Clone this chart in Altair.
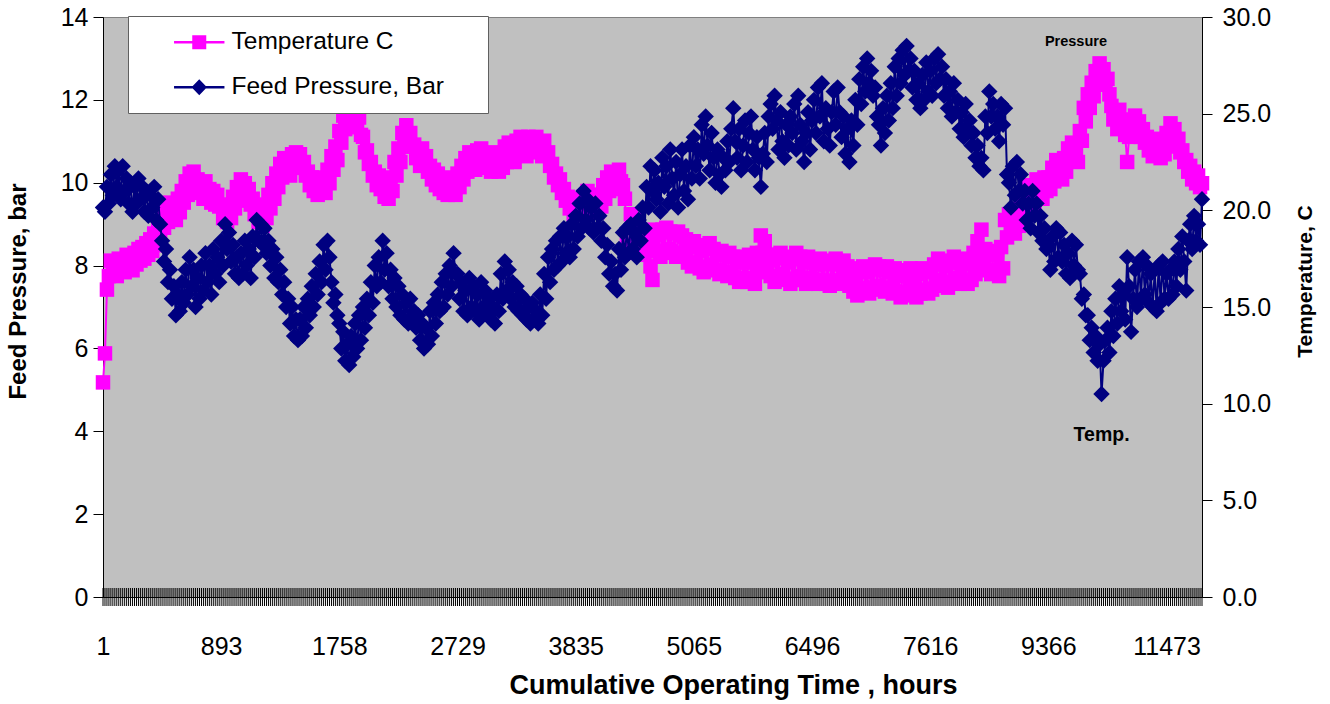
import json
import altair as alt
import pandas as pd

# Category-axis labels (cumulative hours) shown every LABEL_STEP rows
tick_labels = ["1", "893", "1758", "2729", "3835", "5065", "6496", "7616", "9366", "11473"]
LABEL_STEP = 60

# Feed pressure, bar (one value per logged row)
pressure = [
    9.4, 9.3, 9.9, 9.5, 10.2, 9.7, 10.4, 9.9, 10.3, 9.6, 10.4, 9.8, 10.1, 9.5, 10.0, 9.3, 9.9, 9.5, 10.1, 9.6,
    9.9, 9.3, 9.8, 9.2, 9.7, 9.4, 9.9, 9.1, 9.6, 9.0, 8.6, 8.1, 8.4, 7.6, 7.9, 7.2, 7.5, 6.8, 7.3, 6.9,
    7.6, 7.1, 7.9, 7.3, 8.2, 7.5, 7.9, 7.0, 7.7, 7.2, 8.0, 7.4, 8.3, 7.6, 8.0, 7.3, 8.4, 7.8, 8.2, 7.6,
    8.6, 8.0, 9.0, 8.4, 8.8, 8.1, 8.5, 7.8, 8.2, 7.7, 8.3, 7.8, 8.6, 8.0, 8.4, 7.7, 8.7, 8.2, 9.1, 8.6,
    9.0, 8.5, 8.9, 8.3, 8.6, 8.0, 8.4, 7.7, 8.2, 7.6, 7.9, 7.3, 7.6, 7.0, 7.2, 6.6, 7.0, 6.3, 6.7, 6.2,
    6.7, 6.3, 7.0, 6.5, 7.2, 6.8, 7.5, 7.0, 7.8, 7.3, 8.1, 7.6, 8.5, 7.9, 8.6, 8.2, 7.6, 7.1, 7.3, 6.8,
    6.6, 6.0, 6.4, 5.7, 6.1, 5.6, 6.3, 5.8, 6.6, 6.0, 6.8, 6.2, 7.0, 6.5, 7.2, 6.8, 7.6, 7.1, 8.0, 7.5,
    8.2, 7.6, 8.6, 7.9, 8.3, 7.5, 7.9, 7.2, 7.7, 7.0, 7.5, 6.8, 7.3, 6.7, 7.1, 6.6, 7.2, 6.7, 6.9, 6.5,
    6.8, 6.2, 6.6, 6.0, 6.5, 6.1, 6.9, 6.3, 7.1, 6.6, 7.3, 6.9, 7.6, 7.0, 7.8, 7.3, 8.0, 7.5, 8.3, 7.8,
    7.8, 7.2, 7.6, 6.9, 7.4, 6.8, 7.7, 7.0, 7.5, 6.9, 7.3, 6.7, 7.6, 7.0, 7.4, 6.8, 7.2, 6.7, 7.0, 6.6,
    7.3, 6.9, 7.8, 7.2, 8.1, 7.4, 7.9, 7.2, 7.6, 7.0, 7.5, 6.9, 7.3, 6.8, 7.2, 6.7, 7.0, 6.6, 7.1, 6.7,
    6.9, 6.6, 7.3, 6.8, 7.8, 7.2, 8.2, 7.6, 8.4, 7.9, 8.6, 8.0, 8.7, 8.1, 8.9, 8.3, 8.7, 8.2, 9.0, 8.4,
    9.2, 8.7, 9.5, 8.9, 9.8, 9.1, 9.6, 8.9, 9.4, 8.8, 9.5, 8.9, 9.2, 8.6, 8.9, 8.2, 8.5, 7.8, 8.1, 7.5,
    7.8, 7.4, 8.4, 7.9, 8.8, 8.2, 8.9, 8.3, 9.0, 8.4, 8.8, 8.2, 9.1, 8.6, 9.4, 8.9, 9.9, 9.4, 10.4, 9.8,
    10.3, 9.6, 10.0, 9.3, 10.6, 9.9, 10.4, 9.5, 10.8, 10.1, 9.7, 10.5, 9.4, 10.2, 10.8, 9.8, 10.4, 9.6, 10.9, 10.1,
    11.1, 10.4, 10.8, 10.1, 11.4, 10.7, 11.6, 10.9, 10.3, 11.2, 10.6, 10.0, 10.8, 10.2, 9.9, 10.6, 10.3, 11.0, 10.5, 11.3,
    11.8, 11.0, 10.6, 11.3, 10.3, 10.9, 11.5, 10.5, 11.2, 11.6, 10.8, 10.3, 11.1, 10.6, 9.9, 10.7, 11.2, 10.5, 11.6, 11.9,
    11.3, 12.1, 11.5, 10.8, 11.7, 11.0, 10.6, 11.4, 10.9, 11.6, 11.2, 11.9, 10.8, 12.1, 11.4, 11.0, 10.5, 11.2, 11.7, 10.8,
    11.5, 12.0, 11.2, 12.3, 11.6, 12.4, 11.0, 11.8, 11.3, 10.9, 11.7, 12.2, 11.4, 12.3, 11.7, 11.1, 11.6, 10.7, 11.3, 10.5,
    11.5, 10.9, 12.0, 11.4, 12.5, 11.9, 12.8, 12.2, 13.0, 12.4, 12.7, 12.1, 12.3, 11.6, 11.4, 10.9, 11.8, 11.2, 12.1, 11.5,
    12.4, 11.8, 12.8, 12.1, 13.0, 12.4, 13.2, 12.6, 13.3, 12.7, 13.0, 12.3, 12.7, 12.0, 12.4, 11.8, 12.6, 12.0, 12.9, 12.2,
    12.7, 12.1, 13.0, 12.4, 13.1, 12.5, 12.8, 12.1, 12.5, 11.8, 12.2, 11.6, 12.4, 11.7, 12.0, 11.3, 11.7, 11.1, 11.9, 11.3,
    11.5, 10.9, 11.2, 10.6, 10.9, 10.4, 10.6, 10.3, 11.6, 11.2, 12.2, 11.6, 11.9, 11.3, 11.6, 11.0, 11.9, 11.4, 11.8, 10.2,
    10.0, 9.4, 10.4, 9.7, 10.5, 9.8, 10.2, 9.5, 9.8, 9.1, 9.5, 8.9, 9.8, 9.2, 9.5, 8.8, 9.2, 8.6, 8.9, 8.4,
    8.5, 7.9, 8.7, 8.1, 8.9, 8.2, 8.8, 8.1, 8.5, 7.8, 8.3, 7.7, 8.6, 8.0, 8.5, 7.9, 7.8, 7.2, 7.3, 6.8,
    6.8, 6.2, 6.5, 5.9, 6.3, 5.7, 6.1, 4.9, 5.7, 6.2, 6.5, 5.9, 6.9, 6.3, 7.2, 6.6, 7.5, 6.9, 7.3, 6.7,
    8.2, 7.5, 6.4, 7.2, 7.9, 7.0, 8.1, 7.2, 8.2, 7.3, 8.0, 7.1, 7.8, 7.0, 7.9, 6.9, 8.0, 7.1, 8.1, 7.2,
    7.8, 7.2, 7.9, 7.3, 8.1, 7.5, 8.4, 7.9, 8.7, 8.1, 7.4, 8.6, 9.0, 8.4, 9.2, 8.6, 9.0, 8.5, 9.6,
]

# Feed temperature, C
temperature = [
    11.1, 12.6, 15.9, 16.6, 17.4, 16.7, 17.2, 16.6, 17.5, 16.9, 17.3, 16.8, 17.7, 17.1, 17.5, 16.9, 17.8, 17.2, 18.0, 17.4,
    18.1, 17.5, 18.3, 17.7, 18.5, 17.9, 18.8, 18.2, 19.3, 18.6, 19.8, 19.1, 20.1, 19.4, 20.4, 19.7, 20.2, 19.5, 20.6, 19.9,
    21.0, 20.4, 21.5, 20.8, 21.9, 21.2, 22.0, 21.3, 21.6, 20.9, 21.3, 20.6, 21.5, 20.8, 21.1, 20.4, 21.0, 20.3, 20.8, 20.2,
    20.3, 19.6, 20.0, 19.4, 20.2, 19.6, 20.7, 20.1, 21.2, 20.5, 21.6, 20.9, 21.4, 20.7, 21.1, 20.3, 20.6, 19.8, 20.0, 19.4,
    19.6, 19.2, 20.3, 19.6, 20.8, 20.1, 21.4, 20.6, 21.9, 21.2, 22.4, 21.7, 22.7, 22.0, 22.4, 21.8, 22.9, 22.2, 23.0, 22.4,
    22.9, 22.2, 22.5, 21.8, 22.0, 21.3, 21.7, 21.0, 21.4, 20.8, 21.7, 21.0, 21.5, 20.9, 22.1, 21.4, 22.8, 22.1, 23.3, 22.6,
    24.1, 23.5, 24.9, 24.2, 25.5, 24.7, 25.3, 24.5, 25.1, 24.3, 24.8, 23.9, 23.8, 23.0, 23.1, 22.4, 22.5, 21.8, 22.0, 21.3,
    21.8, 21.1, 21.3, 20.7, 21.0, 20.6, 21.7, 21.0, 22.5, 21.8, 23.2, 22.5, 24.0, 23.3, 24.4, 23.7, 24.0, 23.3, 23.4, 22.7,
    23.0, 22.3, 23.2, 22.5, 22.8, 22.0, 22.3, 21.6, 22.1, 21.3, 21.9, 21.1, 21.6, 20.9, 21.5, 20.8, 21.7, 21.0, 21.4, 20.8,
    21.9, 21.2, 22.3, 21.6, 22.7, 22.0, 23.0, 22.3, 22.8, 22.1, 23.1, 22.4, 23.2, 22.5, 22.9, 22.2, 22.7, 22.0, 23.0, 22.3,
    22.7, 22.0, 22.9, 22.2, 23.3, 22.5, 23.5, 22.8, 23.2, 22.5, 23.6, 22.9, 23.8, 23.1, 23.5, 22.8, 23.8, 23.1, 23.7, 23.0,
    23.8, 23.1, 23.5, 22.8, 23.6, 22.9, 23.0, 22.3, 22.4, 21.7, 21.9, 21.3, 21.6, 20.9, 21.1, 20.5, 20.7, 20.1, 20.3, 19.8,
    20.6, 20.0, 20.3, 19.8, 20.7, 20.1, 21.0, 20.3, 20.8, 20.1, 20.5, 19.9, 20.8, 20.2, 21.3, 20.6, 21.7, 21.0, 22.0, 21.3,
    21.8, 21.1, 22.1, 21.5, 21.3, 20.6, 18.2, 17.8, 19.8, 19.1, 19.5, 18.7, 19.0, 18.3, 18.4, 17.7, 18.7, 18.0, 17.1, 16.4,
    19.0, 17.9, 18.7, 17.6, 19.0, 17.9, 19.1, 18.0, 18.9, 17.8, 18.8, 17.6, 18.9, 17.8, 18.7, 17.6, 18.5, 17.3, 18.2, 17.1,
    18.4, 17.3, 18.1, 17.0, 17.9, 16.8, 18.2, 17.0, 18.3, 17.2, 18.0, 16.9, 17.8, 16.7, 17.9, 16.8, 17.7, 16.6, 17.8, 16.7,
    17.6, 16.5, 17.3, 16.3, 17.6, 16.4, 17.4, 16.3, 17.7, 16.5, 17.3, 16.2, 17.8, 16.8, 18.7, 17.8, 18.4, 17.2, 17.7, 16.6,
    17.4, 16.3, 17.7, 16.5, 17.8, 16.7, 17.6, 16.4, 17.3, 16.2, 17.5, 16.4, 17.8, 16.6, 17.6, 16.4, 17.3, 16.2, 17.6, 16.5,
    17.4, 16.3, 17.2, 16.2, 17.5, 16.4, 17.3, 16.2, 17.2, 16.1, 17.4, 16.3, 17.5, 16.4, 17.2, 16.2, 17.4, 16.3, 17.1, 16.1,
    16.9, 15.8, 16.6, 15.6, 17.0, 15.9, 17.1, 16.0, 16.8, 15.7, 17.0, 15.9, 17.2, 16.1, 17.1, 16.0, 16.9, 15.8, 17.1, 16.0,
    16.8, 15.7, 17.0, 15.8, 16.6, 15.5, 16.9, 15.7, 16.7, 15.6, 17.0, 15.8, 16.5, 15.5, 16.8, 15.7, 17.0, 15.9, 16.8, 15.7,
    16.9, 15.9, 17.2, 16.1, 17.5, 16.4, 17.3, 16.2, 17.1, 16.0, 17.4, 16.3, 17.6, 16.5, 17.3, 16.2, 17.5, 16.4, 17.2, 16.2,
    17.4, 16.4, 17.8, 16.7, 18.4, 17.2, 19.0, 17.9, 18.0, 16.9, 17.8, 16.7, 17.9, 16.8, 17.7, 16.6, 18.1, 17.0, 19.5, 18.6,
    19.8, 19.2, 19.4, 18.8, 19.9, 19.2, 20.4, 19.7, 20.9, 20.2, 21.3, 20.6, 21.0, 20.3, 21.6, 20.9, 21.3, 20.6, 21.7, 21.0,
    21.7, 21.1, 22.2, 21.5, 22.6, 21.9, 22.3, 21.6, 22.7, 22.0, 23.2, 22.6, 23.5, 22.8, 23.1, 22.5, 24.1, 23.6, 25.3, 24.6,
    26.0, 25.3, 26.6, 25.9, 27.2, 26.5, 27.6, 26.9, 27.3, 26.5, 26.8, 26.0, 25.4, 24.7, 24.9, 24.2, 25.2, 24.5, 24.6, 23.9,
    22.5, 23.8, 24.7, 24.0, 24.9, 24.2, 24.6, 23.8, 24.2, 23.5, 23.8, 23.1, 23.5, 22.8, 23.7, 23.0, 23.4, 22.7, 23.6, 22.9,
    24.0, 23.3, 24.5, 23.8, 24.2, 23.5, 23.7, 23.0, 23.1, 22.5, 22.6, 22.0, 22.3, 21.6, 22.0, 21.4, 21.8, 21.2, 21.4,
]

series_names = ["Temperature C", "Feed Pressure, Bar"]
PINK = "#FF00FF"
NAVY = "#000080"
PLOT_BG = "#C0C0C0"

# In-plot notes: text, row index, value on its own axis
temp_note = {"text": ["Pressure"], "idx": [494.0], "temperature": [28.7]}
pres_note = {"text": ["Temp."], "idx": [507.0], "pressure": [3.9]}

FONT = "Liberation Sans"

n = len(pressure)
df = pd.DataFrame({"idx": list(range(n)), "pressure": pressure, "temperature": temperature})

label_expr = json.dumps(tick_labels) + f"[round(datum.value / {LABEL_STEP})]"

x_enc = alt.X(
    "idx:Q",
    scale=alt.Scale(domain=[0, n - 1], nice=False, zero=False),
    axis=alt.Axis(
        values=list(range(0, n, LABEL_STEP)),
        labelExpr=label_expr,
        ticks=False,
        tickSize=0,
        grid=False,
        domainColor="black",
        domainWidth=1,
        labelFont=FONT,
        labelFontSize=25,
        labelColor="black",
        labelBaseline="middle",
        labelPadding=49,
        labelFlush=False,
        labelOverlap=False,
        title="Cumulative Operating Time , hours",
        titleFont=FONT,
        titleFontSize=27,
        titleFontWeight="bold",
        titleColor="black",
        titleX=630,
        titleY=88,
        titleBaseline="middle",
        titleAnchor="middle",
    ),
)

y_pres = alt.Y(
    "pressure:Q",
    scale=alt.Scale(domain=[0, 14], nice=False, zero=True),
    axis=alt.Axis(
        orient="left",
        values=list(range(0, 15, 2)),
        grid=False,
        tickSize=10,
        tickColor="black",
        domainColor="black",
        labelFont=FONT,
        labelFontSize=25,
        labelColor="black",
        labelPadding=5,
        title="Feed Pressure, bar",
        titleFont=FONT,
        titleFontSize=24,
        titleFontWeight="bold",
        titleColor="black",
        titleAngle=-90,
        titleX=-85,
        titleY=274,
        titleBaseline="middle",
        titleAlign="center",
    ),
)

y_temp = alt.Y(
    "temperature:Q",
    scale=alt.Scale(domain=[0, 30], nice=False, zero=True),
    axis=alt.Axis(
        orient="right",
        values=list(range(0, 31, 5)),
        format=".1f",
        grid=False,
        tickSize=10,
        tickColor="black",
        domainColor="black",
        labelFont=FONT,
        labelFontSize=25,
        labelColor="black",
        labelPadding=10,
        title="Temperature, C",
        titleFont=FONT,
        titleFontSize=21,
        titleFontWeight="bold",
        titleColor="black",
        titleAngle=-90,
        titleX=103,
        titleY=264,
        titleBaseline="middle",
        titleAlign="center",
    ),
)

base = alt.Chart(df)

# Dense category tick marks crossing the horizontal axis
cat_ticks = base.mark_rule(color="black", strokeWidth=1).encode(
    x=x_enc, y=alt.value(571), y2=alt.value(589)
)

temp_line = base.mark_line(color=PINK, strokeWidth=2).encode(x=x_enc, y=y_temp)
temp_pts = base.mark_point(shape="square", size=210, filled=True, color=PINK, opacity=1).encode(
    x=x_enc, y=y_temp
)
temp_text = alt.Chart(pd.DataFrame(temp_note)).mark_text(
    font=FONT, fontSize=14.5, fontWeight="bold", color="black", align="center", baseline="middle"
).encode(x=x_enc, y=y_temp, text="text:N")
temp_layer = alt.layer(temp_line, temp_pts, temp_text)

pres_line = base.mark_line(color=NAVY, strokeWidth=2).encode(x=x_enc, y=y_pres)
pres_pts = base.mark_point(shape="diamond", size=270, filled=True, color=NAVY, opacity=1).encode(
    x=x_enc, y=y_pres
)
pres_text = alt.Chart(pd.DataFrame(pres_note)).mark_text(
    font=FONT, fontSize=19.5, fontWeight="bold", color="black", align="center", baseline="middle"
).encode(x=x_enc, y=y_pres, text="text:N")
pres_layer = alt.layer(pres_line, pres_pts, pres_text)

# Legend symbols: a line segment with the series marker on it
sq_path = "M-3.6,-0.18H3.6V0.18H-3.6Z M-1,-1H1V1H-1Z"
dia_path = "M-3.6,-0.18H3.6V0.18H-3.6Z M0,-1.15L1.1,0L0,1.15L-1.1,0Z"

legend_def = alt.Legend(
    title="\u00a0",
    titleOrient="right",
    titlePadding=30,
    titleFontSize=1,
    orient="none",
    legendX=25,
    legendY=-1,
    padding=14,
    fillColor="white",
    strokeColor="#606060",
    symbolSize=196,
    symbolOffset=45,
    symbolStrokeWidth=0,
    symbolOpacity=1,
    labelOffset=20,
    rowPadding=20,
    labelFont=FONT,
    labelFontSize=24.5,
    labelColor="black",
    labelLimit=400,
)

legend_layer = alt.Chart(pd.DataFrame({"series": series_names})).mark_point(
    filled=True, opacity=0
).encode(
    color=alt.Color("series:N", scale=alt.Scale(domain=series_names, range=[PINK, NAVY]), legend=legend_def),
    shape=alt.Shape("series:N", scale=alt.Scale(domain=series_names, range=[sq_path, dia_path]), legend=legend_def),
)

chart = (
    alt.layer(cat_ticks, temp_layer, pres_layer, legend_layer)
    .resolve_scale(y="independent")
    .properties(
        width=1099,
        height=580,
        padding={"left": 103, "top": 17, "right": 128, "bottom": 107},
        autosize=alt.AutoSizeParams(type="none"),
        background="white",
        view=alt.ViewBackground(fill=PLOT_BG, stroke="#808080", strokeWidth=1),
    )
    .configure_view(fill=PLOT_BG, stroke="#808080", strokeWidth=1)
)

chart.save("out.html", embed_options={"renderer": "svg", "actions": False})
